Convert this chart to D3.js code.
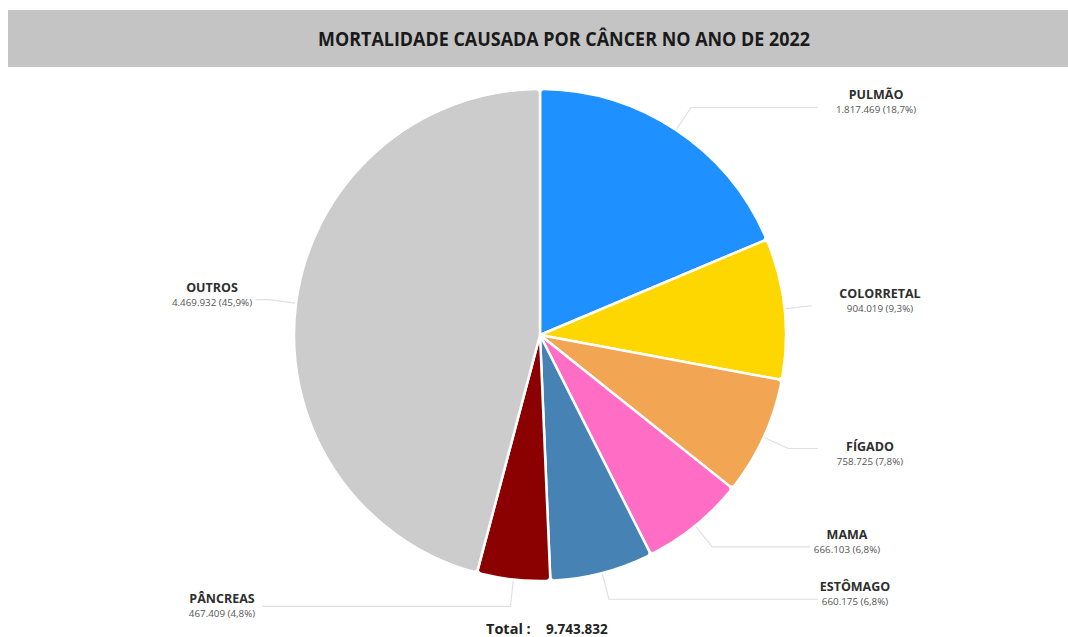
<!DOCTYPE html>
<html lang="pt-BR">
<head>
<meta charset="utf-8">
<script src="https://cdn.jsdelivr.net/npm/d3@7"></script>
<style>
  html, body { margin: 0; padding: 0; background: #fff; }
  svg { display: block; font-family: "Open Sans", "Noto Sans", sans-serif; }
</style>
</head>
<body>
<svg id="chart" width="1068" height="637"></svg>
<script>
// Cancer deaths by site, 2022
const categories = ["PULMÃO", "COLORRETAL", "FÍGADO", "MAMA", "ESTÔMAGO", "PÂNCREAS", "OUTROS"];
const deaths = [1817469, 904019, 758725, 666103, 660175, 467409, 4469932];
const shareLabels = ["18,7%", "9,3%", "7,8%", "6,8%", "6,8%", "4,8%", "45,9%"];
const colors = ["#1e90ff", "#ffd700", "#f2a553", "#ff6ec4", "#4682b4", "#8b0000", "#cccccc"];
const title = "MORTALIDADE CAUSADA POR CÂNCER NO ANO DE 2022";

// label placement: end of the horizontal leader, label centre x, and y shift of the text block
const labelLayout = [
  { lineEnd: 818, cx: 876, dy: 0 },
  { lineEnd: 812, cx: 880, dy: 0 },
  { lineEnd: 818, cx: 870, dy: 10 },
  { lineEnd: 810, cx: 847, dy: 0 },
  { lineEnd: 818, cx: 855, dy: 0 },
  { lineEnd: 262, cx: 222, dy: 5 },
  { lineEnd: 256, cx: 212, dy: 0 }
];

const fmt = d3.formatLocale({ decimal: ",", thousands: ".", grouping: [3], currency: ["", ""] }).format(",d");

const svg = d3.select("#chart");

// title bar
svg.append("rect").attr("x", 8).attr("y", 10).attr("width", 1060).attr("height", 57).attr("fill", "#c4c4c4");
svg.append("text")
  .attr("x", 564).attr("y", 46)
  .attr("text-anchor", "middle")
  .attr("font-size", 19).attr("font-weight", 700).attr("fill", "#1a1a1a")
  .attr("textLength", 492).attr("lengthAdjust", "spacingAndGlyphs")
  .text(title);

const cx = 540, cy = 335, R = 246;
const g = svg.append("g").attr("transform", `translate(${cx},${cy})`);

const data = categories.map((c, i) => ({ name: c, value: deaths[i], share: shareLabels[i], color: colors[i], layout: labelLayout[i] }));

const pie = d3.pie().sort(null).value(d => d.value);
const arcs = pie(data);
const arc = d3.arc().innerRadius(0).outerRadius(R).cornerRadius(4);

g.selectAll("path.slice")
  .data(arcs)
  .join("path")
  .attr("class", "slice")
  .attr("d", arc)
  .attr("fill", d => d.data.color)
  .attr("stroke", "#fff")
  .attr("stroke-width", 2.5)
  .attr("stroke-linejoin", "round");

// leader lines
const at = (a, r) => [Math.sin(a) * r, -Math.cos(a) * r];
g.selectAll("polyline.leader")
  .data(arcs)
  .join("polyline")
  .attr("class", "leader")
  .attr("fill", "none")
  .attr("stroke", "#e0e0e0")
  .attr("stroke-width", 1.2)
  .attr("points", d => {
    const a = (d.startAngle + d.endAngle) / 2;
    const p0 = at(a, R + 1);
    const p1 = at(a, R * 1.11);
    const p2 = [d.data.layout.lineEnd - cx, p1[1]];
    return [p0, p1, p2].map(p => p.join(",")).join(" ");
  });

// labels
const labels = g.selectAll("g.label")
  .data(arcs)
  .join("g")
  .attr("class", "label")
  .attr("transform", d => {
    const a = (d.startAngle + d.endAngle) / 2;
    const p1 = at(a, R * 1.11);
    return `translate(${d.data.layout.cx - cx},${p1[1] + d.data.layout.dy})`;
  });

labels.append("text")
  .attr("y", -8)
  .attr("text-anchor", "middle")
  .attr("font-size", 12.5).attr("font-weight", 700).attr("fill", "#2e2e2e")
  .text(d => d.data.name);

labels.append("text")
  .attr("y", 6)
  .attr("text-anchor", "middle")
  .attr("font-size", 9.8).attr("fill", "#555")
  .text(d => `${fmt(d.data.value)} (${d.data.share})`);

// total
const total = d3.sum(deaths);
svg.append("text")
  .attr("x", 486).attr("y", 634)
  .attr("font-size", 14.5).attr("font-weight", 700).attr("fill", "#222")
  .text("Total :");
svg.append("text")
  .attr("x", 546).attr("y", 634)
  .attr("font-size", 13.5).attr("font-weight", 700).attr("fill", "#222")
  .text(fmt(total));
</script>
</body>
</html>
